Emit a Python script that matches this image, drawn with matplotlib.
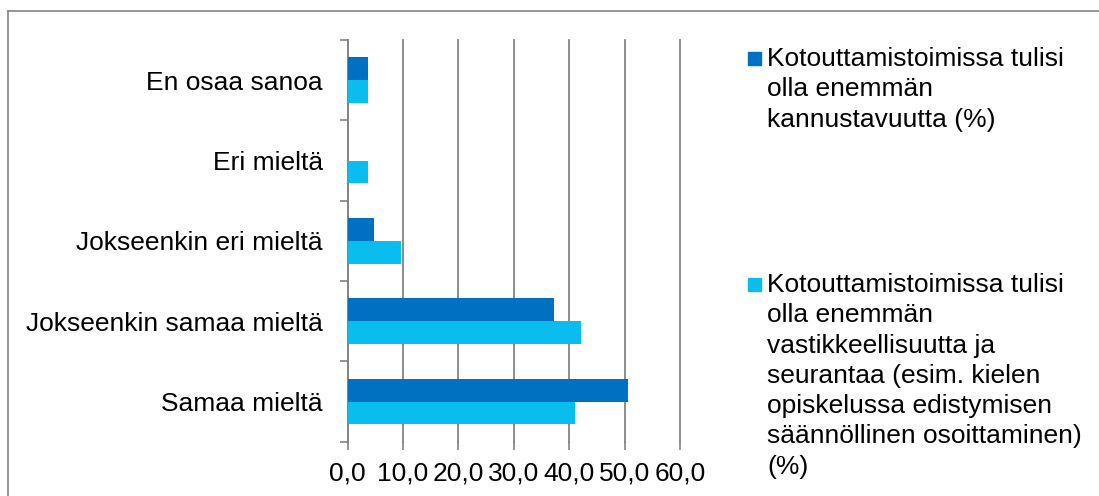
import numpy as np
import matplotlib
matplotlib.use("Agg")
import matplotlib.pyplot as plt
from matplotlib.lines import Line2D
from matplotlib.patches import Rectangle

plt.rcParams['font.family'] = ['Liberation Sans', 'DejaVu Sans']

# data, bottom to top
categories = ['Samaa mieltä', 'Jokseenkin samaa mieltä', 'Jokseenkin eri mieltä',
              'Eri mieltä', 'En osaa sanoa']
kannustavuus = [50.6, 37.3, 4.8, 0.0, 3.6]
vastikkeellisuus = [41.0, 42.2, 9.6, 3.6, 3.6]
series_names = ['Kotouttamistoimissa tulisi\nolla enemmän\nkannustavuutta (%)',
                'Kotouttamistoimissa tulisi\nolla enemmän\nvastikkeellisuutta ja\n'
                'seurantaa (esim. kielen\nopiskelussa edistymisen\n'
                'säännöllinen osoittaminen)\n(%)']
x_ticks = [0, 10, 20, 30, 40, 50, 60]

dark = '#0070C0'
light = '#0BBCEF'
grey = '#848484'
W, H = 1099, 496

fig = plt.figure(figsize=(W / 100, H / 100), dpi=100)
ax = fig.add_axes([347.7 / W, 1 - 441.7 / H, (680 - 347.7) / W, (441.7 - 40) / H])

y = np.arange(len(categories))
bh = 0.285
ax.barh(y + bh / 2, kannustavuus, height=bh, color=dark, zorder=3)
ax.barh(y - bh / 2, vastikkeellisuus, height=bh, color=light, zorder=3)

ax.set_xlim(0, 60)
ax.set_ylim(-0.5, len(categories) - 0.5)
ax.set_xticks(x_ticks)
ax.set_xticklabels([f'{v:.1f}'.replace('.', ',') for v in x_ticks], fontsize=19)
ax.tick_params(axis='x', length=5.5, width=1.2, color=grey, pad=9)

# category boundaries get tick marks, labels sit in the middle
ax.set_yticks(np.arange(-0.5, len(categories), 1.0))
ax.set_yticklabels([])
ax.set_yticks(y, minor=True)
ax.set_yticklabels(categories, minor=True, fontsize=19)
ax.tick_params(axis='y', which='major', length=5.5, width=1.2, color=grey)
ax.tick_params(axis='y', which='minor', length=0, pad=17.8)

ax.grid(axis='x', color=grey, linewidth=1.3, zorder=0)
for gl in ax.get_xgridlines():
    gl.set_clip_on(False)
for s in ['top', 'right', 'bottom']:
    ax.spines[s].set_visible(False)
ax.spines['left'].set_color(grey)
ax.spines['left'].set_linewidth(1.3)

# legend drawn by hand so the squares line up with the first line
legend_tops = [47, 273]
for name, col, top in zip(series_names, [dark, light], legend_tops):
    fig.add_artist(Rectangle((748 / W, 1 - (top + 18) / H), 13 / W, 13 / H,
                             color=col, transform=fig.transFigure))
    fig.text(767 / W, 1 - top / H, name, fontsize=19, va='top', ha='left',
             linespacing=1.33)

# chart frame (only top and left edges are inside the picture)
fig.add_artist(Line2D([8 / W, 8 / W], [0, 1 - 11 / H], color=grey, lw=1.2))
fig.add_artist(Line2D([8 / W, 1], [1 - 11 / H, 1 - 11 / H], color=grey, lw=1.2))

fig.savefig('out.png', dpi=100)
